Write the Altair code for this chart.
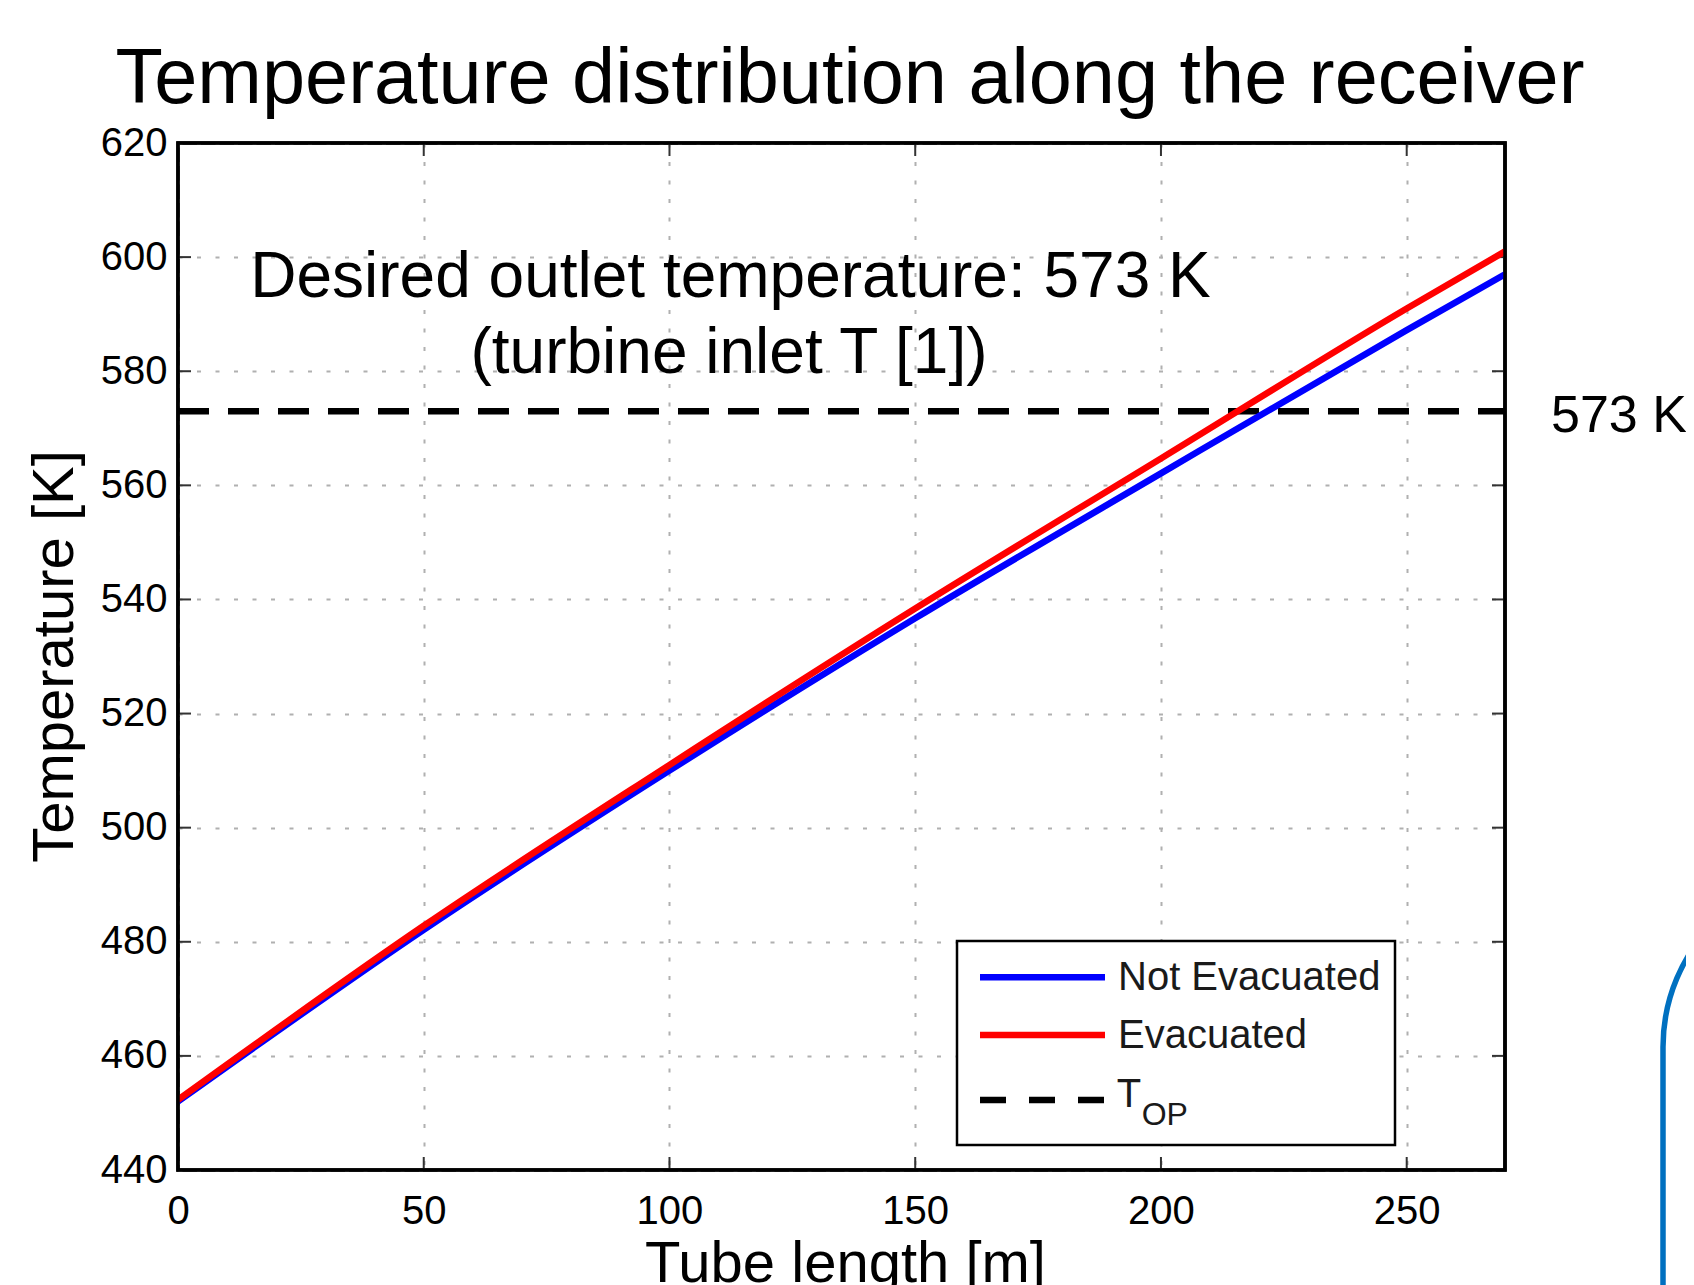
import altair as alt
import pandas as pd

# ---- data ----
length_m = [0, 50, 100, 150, 200, 250, 270]
not_evacuated_K = [452.0, 482.1, 510.0, 536.7, 562.1, 587.2, 597.0]
evacuated_K = [452.3, 482.8, 511.0, 538.4, 564.7, 591.0, 601.0]
T_OP = [573]
x_ticks = [0, 50, 100, 150, 200, 250]
y_ticks = [440, 460, 480, 500, 520, 540, 560, 580, 600, 620]
x_domain = [0, 270]
y_domain = [440, 620]

W, H = 1327, 1027
FONT = "Liberation Sans"

df_ne = pd.DataFrame({"len": length_m, "T": not_evacuated_K})
df_ev = pd.DataFrame({"len": length_m, "T": evacuated_K})
df_top = pd.DataFrame({"T": T_OP})
df_xt = pd.DataFrame({"v": x_ticks})
df_yt = pd.DataFrame({"v": y_ticks})
one = pd.DataFrame({"k": [0]})

xs = alt.Scale(domain=x_domain, nice=False, zero=False)
ys = alt.Scale(domain=y_domain, nice=False, zero=False)
xa = alt.Axis(values=x_ticks, title=None, grid=True, ticks=False, tickSize=0, domain=False,
              labelFontSize=40, labelFont=FONT, labelColor="#000", labelPadding=21,
              labelFlush=False, labelOverlap=False,
              gridDash=[4, 14.5], gridColor="#b0b0b0", gridWidth=2)
ya = alt.Axis(values=y_ticks, title=None, grid=True, ticks=False, tickSize=0, domain=False,
              labelFontSize=40, labelFont=FONT, labelColor="#000", labelPadding=11,
              labelFlush=False, labelOverlap=False,
              gridDash=[4, 14.5], gridColor="#b0b0b0", gridWidth=2)

X = lambda f: alt.X(f, type="quantitative", scale=xs, axis=xa)
Y = lambda f: alt.Y(f, type="quantitative", scale=ys, axis=ya)

blue_line = alt.Chart(df_ne).mark_line(color="#0000FF", strokeWidth=6.5, clip=True,
                                       interpolate="monotone").encode(x=X("len"), y=Y("T"))
red_line = alt.Chart(df_ev).mark_line(color="#FF0000", strokeWidth=6.5, clip=True,
                                      interpolate="monotone").encode(x=X("len"), y=Y("T"))
top_line = alt.Chart(df_top).mark_rule(color="#000", strokeWidth=6.5, strokeDash=[31, 19]).encode(
    y=Y("T"), x=alt.value(0), x2=alt.value(W))
top_label = alt.Chart(df_top).mark_text(text="573 K", font=FONT, fontSize=52, align="left",
                                        baseline="alphabetic", dy=21, color="#000").encode(
    y=Y("T"), x=alt.value(1373))

tick_color = "#333"
xt_bot = alt.Chart(df_xt).mark_rule(color=tick_color, strokeWidth=2).encode(
    x=X("v"), y=alt.value(H), y2=alt.value(H - 13))
xt_top = alt.Chart(df_xt).mark_rule(color=tick_color, strokeWidth=2).encode(
    x=X("v"), y=alt.value(0), y2=alt.value(13))
yt_left = alt.Chart(df_yt).mark_rule(color=tick_color, strokeWidth=2).encode(
    y=Y("v"), x=alt.value(0), x2=alt.value(13))
yt_right = alt.Chart(df_yt).mark_rule(color=tick_color, strokeWidth=2).encode(
    y=Y("v"), x=alt.value(W - 13), x2=alt.value(W))

# solid axes box drawn over the grid
frame = alt.Chart(one).mark_rect(fillOpacity=0, stroke="#000", strokeWidth=3.5).encode(
    x=alt.value(0), x2=alt.value(W), y=alt.value(0), y2=alt.value(H))


def txt(s, x, y, size, align="center", angle=0, color="#000"):
    kw = dict(text=s, font=FONT, fontSize=size, align=align, baseline="alphabetic", color=color)
    if angle:
        kw["angle"] = angle
    return alt.Chart(one).mark_text(**kw).encode(x=alt.value(x), y=alt.value(y))


title = txt("Temperature distribution along the receiver", 672, -40.4, 77.5)
ann1 = txt("Desired outlet temperature: 573 K", 552.5, 154, 64)
ann2 = txt("(turbine inlet T [1])", 551, 229.7, 64)
ytitle = txt("Temperature [K]", -105, 513.5, 58, angle=270)
xtitle = txt("Tube length [m]", 667.5, 1139, 58)

# legend (custom, to allow the T_OP subscript)
leg_box = alt.Chart(one).mark_rect(fill="white", stroke="#000", strokeWidth=2.5).encode(
    x=alt.value(779), x2=alt.value(1217), y=alt.value(798), y2=alt.value(1002))
leg_blue = alt.Chart(one).mark_rule(color="#0000FF", strokeWidth=6.5).encode(
    x=alt.value(802), x2=alt.value(927), y=alt.value(834.3))
leg_red = alt.Chart(one).mark_rule(color="#FF0000", strokeWidth=6.5).encode(
    x=alt.value(802), x2=alt.value(927), y=alt.value(892))
leg_dash = alt.Chart(one).mark_rule(color="#000", strokeWidth=6.5, strokeDash=[26, 23]).encode(
    x=alt.value(802), x2=alt.value(927), y=alt.value(957))
leg_t1 = txt("Not Evacuated", 940, 847, 40, align="left", color="#1a1a1a")
leg_t2 = txt("Evacuated", 940, 905, 40, align="left", color="#1a1a1a")
leg_t3 = txt("T", 938.7, 963.7, 40, align="left", color="#1a1a1a")
leg_t4 = txt("OP", 963.7, 982, 32, align="left", color="#1a1a1a")

# slide decoration at the bottom right
deco = alt.Chart(one).mark_rect(fillOpacity=0, stroke="#0070C0", strokeWidth=5.5,
                                cornerRadius=177).encode(
    x=alt.value(1485), x2=alt.value(1900), y=alt.value(727), y2=alt.value(1400))

chart = alt.layer(
    xt_bot, xt_top, yt_left, yt_right,
    top_line, blue_line, red_line, frame, top_label,
    leg_box, leg_blue, leg_red, leg_dash, leg_t1, leg_t2, leg_t3, leg_t4,
    title, ann1, ann2, ytitle, xtitle, deco,
).properties(
    width=W, height=H,
    autosize=alt.AutoSizeParams(type="none"),
    padding={"left": 170, "top": 135, "right": 181, "bottom": 115},
).configure(
    background="white",
    view=alt.ViewConfig(stroke="#000", strokeWidth=3.5),
)

chart.save("out.html", embed_options={"renderer": "svg", "actions": False})
